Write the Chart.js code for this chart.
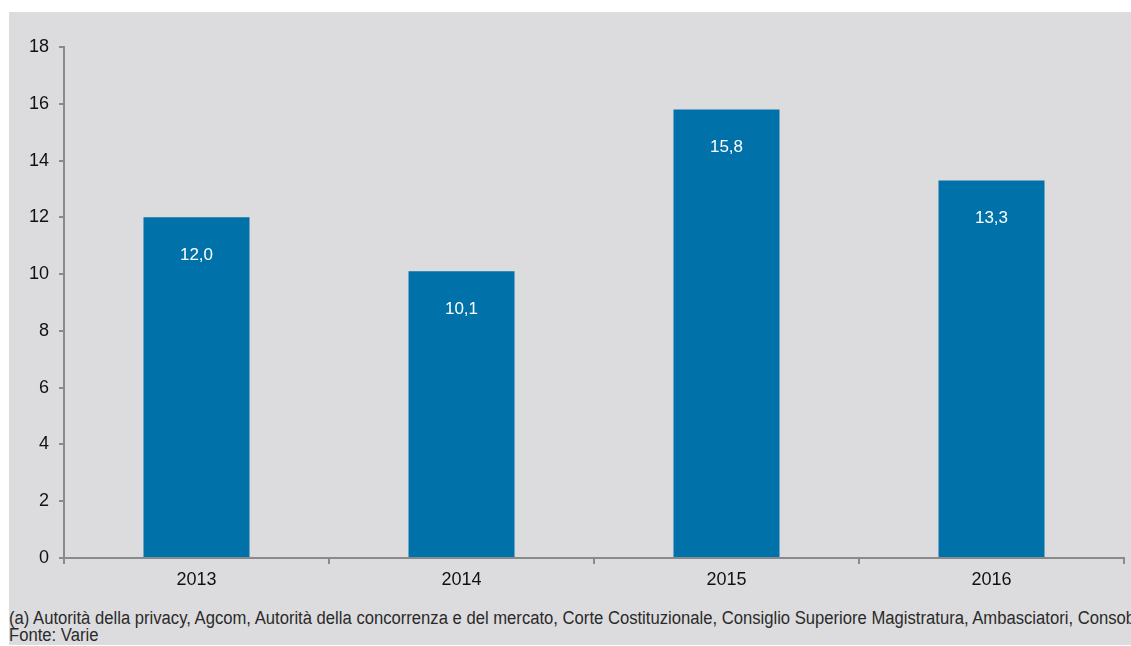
<!DOCTYPE html>
<html>
<head>
<meta charset="utf-8">
<script src="https://cdn.jsdelivr.net/npm/chart.js@4/dist/chart.umd.min.js"></script>
<style>
  html, body { margin: 0; padding: 0; background: #fff; }
  #box {
    position: absolute; left: 9px; top: 12px; width: 1122px; height: 633px;
    background: #dcdcde; overflow: hidden;
  }
  #wrap { position: absolute; left: 0; top: 0; width: 1122px; height: 590px; }
  #note {
    position: absolute; left: 0; top: 598px; white-space: nowrap;
    font-family: "Liberation Sans", Arial, sans-serif;
    font-size: 18px; line-height: 17px; color: #2a2a2a;
    transform-origin: 0 0;
  }
</style>
</head>
<body>
<div id="box">
  <div id="wrap"><canvas id="chart"></canvas></div>
  <div id="note"><span id="l1">(a) Autorità della privacy, Agcom, Autorità della concorrenza e del mercato, Corte Costituzionale, Consiglio Superiore Magistratura, Ambasciatori, Consob</span><br>Fonte: Varie</div>
</div>
<script>
const years = ['2013', '2014', '2015', '2016'];
const values = [12.0, 10.1, 15.8, 13.3];
const yTicks = [0, 2, 4, 6, 8, 10, 12, 14, 16, 18];

// testo condensato: stringo la nota in orizzontale
const l1 = document.getElementById('l1');
const k = 1126 / l1.getBoundingClientRect().width;
document.getElementById('note').style.transform = 'scaleX(' + k + ')';

// etichette dentro le barre
const barLabels = {
  id: 'barLabels',
  afterDatasetsDraw(chart) {
    const ctx = chart.ctx;
    const meta = chart.getDatasetMeta(0);
    ctx.save();
    ctx.fillStyle = '#ffffff';
    ctx.font = '17px Liberation Sans, Arial, sans-serif';
    ctx.textAlign = 'center';
    ctx.textBaseline = 'middle';
    meta.data.forEach((bar, i) => {
      ctx.fillText(values[i].toFixed(1).replace('.', ','), bar.x, bar.y + 38);
    });
    ctx.restore();
  }
};

new Chart(document.getElementById('chart'), {
  type: 'bar',
  data: {
    labels: years,
    datasets: [{
      data: values,
      backgroundColor: '#0072a9',
      categoryPercentage: 0.4,
      barPercentage: 1.0
    }]
  },
  options: {
    responsive: true,
    maintainAspectRatio: false,
    animation: false,
    layout: { padding: { top: 35, right: 7, left: 0, bottom: 0 } },
    plugins: { legend: { display: false }, tooltip: { enabled: false } },
    scales: {
      x: {
        offset: true,
        grid: {
          offset: true, drawOnChartArea: false, drawTicks: true,
          tickLength: 6, color: '#8a8a8a', lineWidth: 2
        },
        border: { color: '#8a8a8a', width: 2 },
        ticks: {
          color: '#111', padding: 5,
          font: { family: 'Liberation Sans, Arial, sans-serif', size: 18 }
        },
        afterFit(scale) { scale.height = 44; }
      },
      y: {
        min: 0, max: 18,
        afterBuildTicks(scale) { scale.ticks = yTicks.map(v => ({ value: v })); },
        grid: {
          drawOnChartArea: false, drawTicks: true,
          tickLength: 5, color: '#8a8a8a', lineWidth: 2
        },
        border: { color: '#8a8a8a', width: 2 },
        ticks: {
          color: '#111', padding: 10,
          font: { family: 'Liberation Sans, Arial, sans-serif', size: 18 }
        },
        afterFit(scale) { scale.width = 55; }
      }
    }
  },
  plugins: [barLabels]
});
</script>
</body>
</html>
